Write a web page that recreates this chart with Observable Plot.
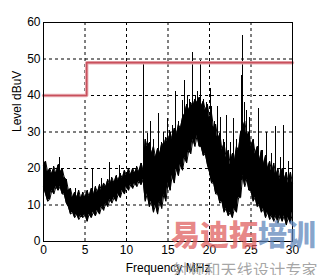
<!DOCTYPE html>
<html>
<head>
<meta charset="utf-8">
<script src="https://cdn.jsdelivr.net/npm/d3@7"></script>
<script src="https://cdn.jsdelivr.net/npm/@observablehq/plot@0.6"></script>
<style>
  body { margin: 0; background: #fff; }
  #wrap { position: relative; width: 325px; height: 275px; overflow: hidden; background: #fff; }
  .wm1 { position: absolute; left: 171px; top: 219px; font-family: "Noto Sans CJK SC"; font-weight: 900; font-size: 29px; white-space: nowrap; line-height: 1; }
  .wm2 { position: absolute; left: 172px; top: 261px; font-family: "Noto Sans CJK SC"; font-size: 16px; color: rgba(150,150,150,0.85); white-space: nowrap; line-height: 1; letter-spacing: 0.2px; }
</style>
</head>
<body>
<div id="wrap"></div>
<script>
// Frequency grid (MHz) of the noise envelope
const freq = [0,0.5,1,1.5,2,2.5,3,3.5,4,4.5,5,5.5,6,6.5,7,7.5,8,8.5,9,9.5,10,10.5,11,11.5,12,
  12.5,13,13.5,14,14.5,15,15.5,16,16.5,17,17.5,18,18.5,19,19.5,20,20.5,21,21.5,22,22.5,23,23.5,24,
  24.5,25,25.5,26,26.5,27,27.5,28,28.5,29,29.5,30];
// Upper envelope (dBuV)
const hi = [21,19,18.5,18.5,19,17.5,14,12,12,11.7,12,12.3,12.6,13.5,14,15,15.5,16,16.7,17.3,18,18.3,18.7,19,19.5,
  26,24,23,24,26,27,28,29,31,35,36,37,38,37,36,34,31,28,25,23,21,22,25,31,
  29,26,24,22,21,20,19,18,17,17,16,16];
// Lower envelope (dBuV)
const lo = [15,11,14,15,15,13,9.5,8,7.5,7,7.5,7.5,8,8.5,9.5,10.5,11.5,12,13,14,15,15.5,16,16.5,17,
  13,11,10,11,13,16,18,20,21,23,25,28,29,26,24,19,16,13,11,9,8,9,12,18,
  17,14,12,10,9,8,7,7,7,7,6.5,8];
// In-between noise extremes (MHz, dBuV)
const fringeF = [0.25,0.75,1.25,1.75,2.25,2.75,3.25,3.75,4.25,4.75,5.25,5.75,6.25,6.75,7.25,7.75,8.25,8.75,9.25,9.75,
  10.25,10.75,11.25,11.75,12.25,12.75,13.25,13.75,14.25,14.75,15.25,15.75,16.25,16.75,17.25,17.75,18.25,18.75,19.25,19.75,
  20.25,20.75,21.25,21.75,22.25,22.75,23.25,23.75,24.25,24.75,25.25,25.75,26.25,26.75,27.25,27.75,28.25,28.75,29.25,29.75];
const fringeUp = [22,20,20.5,21,20,17,14.5,13.5,14,13.5,14,14.5,15,15.5,16,17,17.5,18,18.5,19.5,
  20,20,20.5,21.5,28,27,26,25.5,27,28.5,30,31,32,34,37.5,38,39,39.5,38.5,37.5,
  35,32,29.5,27,25,24,26,30,33,30,28,26,25,23.5,22,21.5,20,20,19,19];
const fringeDn = [13,11.5,13,14,13,10.5,7.5,6.5,6,6.5,5.5,6.5,7,7.5,8.5,9.5,10.5,11,12,13,
  14,14.5,15,15.5,11,9.5,8,7.5,9,11,14,16,18,19.5,21.5,24,26,26,23.5,21,
  16,13,10.5,8,7,6.5,8,12,15,14,11,9.5,8,6.5,6,5.5,5,5.5,4.5,5];
// Narrow spikes: frequency (MHz) and peak level (dBuV)
const spikeF = [1.9,3.9,5.9,7.0,8.0,9.2,10.7,12.0,12.5,12.9,13.3,13.9,14.5,14.9,15.2,15.6,15.9,16.3,16.7,17.0,
  17.3,17.6,18.0,18.3,18.6,18.9,19.3,19.6,20.1,20.3,20.6,21.0,21.3,21.7,22.1,22.5,22.9,23.3,23.8,24.0,
  24.2,24.4,24.8,25.3,25.9,26.4,26.9,27.5,28.0,28.5,28.9,29.5,30.0];
const spikeTop = [23,14.5,20,17.3,21.6,20.8,19.5,49,29.6,33,28,35,30,33.7,30.4,31.8,41,33,38.6,44,
  40,39,51.8,40,41,49.5,39,38,42,37,33,37,34,28,34.5,27,33.6,28,45.5,56.4,
  38,36,34,27,36.4,25,30,24,31.6,23,31.8,22,31];
// Emission limit line
const limitF = [0,5.2,5.2,30];
const limitV = [40,40,49,49];
// Axis ticks
const xTicks = [0,5,10,15,20,25,30];
const yTicks = [0,10,20,30,40,50,60];

// merge envelope and in-between extremes into one jagged band
const band = [];
freq.forEach((f,i) => {
  band.push({f, hi: hi[i], lo: lo[i]});
  if (i < fringeF.length) band.push({f: fringeF[i], hi: fringeUp[i], lo: fringeDn[i]});
});
const loAt = d3.scaleLinear().domain(freq).range(lo);
const spikes = spikeF.map((f,i) => ({f, top: spikeTop[i], base: loAt(f) + 1}));
const limit = limitF.map((f,i) => ({f, v: limitV[i]}));

const font = "'Liberation Sans', Arial, sans-serif";
const chart = Plot.plot({
  width: 325, height: 275,
  marginLeft: 43, marginRight: 33, marginTop: 22, marginBottom: 34,
  style: {fontFamily: font, fontSize: "12px", background: "#fff", color: "#000"},
  x: {domain: [0,30]},
  y: {domain: [0,60]},
  marks: [
    Plot.gridX(xTicks, {stroke: "#000", strokeOpacity: 1, strokeDasharray: "3,3"}),
    Plot.gridY(yTicks, {stroke: "#000", strokeOpacity: 1, strokeDasharray: "3,3"}),
    Plot.areaY(band, {x: "f", y1: "lo", y2: "hi", fill: "#000"}),
    Plot.line(band, {x: "f", y: "hi", stroke: "#000", strokeWidth: 1}),
    Plot.line(band, {x: "f", y: "lo", stroke: "#000", strokeWidth: 1}),
    Plot.ruleX(band, {x: "f", y1: "lo", y2: "hi", stroke: "#000", strokeWidth: 1, shapeRendering: "crispEdges"}),
    Plot.ruleX(spikes, {x: "f", y1: "base", y2: "top", stroke: "#000", strokeWidth: 1, shapeRendering: "crispEdges"}),
    Plot.line(limit, {x: "f", y: "v", stroke: "#eab0b6", strokeWidth: 3.5}),
    Plot.line(limit, {x: "f", y: "v", stroke: "#c8505c", strokeWidth: 1.6}),
    Plot.frame({stroke: "#000"}),
    Plot.axisX(xTicks, {tickSize: 0, tickPadding: 4, label: null, fontSize: 12}),
    Plot.axisY(yTicks, {tickSize: 0, tickPadding: 3, label: null, fontSize: 12}),
    Plot.text(["Frequency MHz"], {frameAnchor: "bottom", dy: 30, fontSize: 12}),
    Plot.text(["Level dBuV"], {frameAnchor: "left", dx: -26, rotate: -90, fontSize: 12})
  ]
});
const wrap = document.getElementById("wrap");
wrap.appendChild(chart);
const w1 = document.createElement("div");
w1.className = "wm1";
w1.innerHTML = '<span style="color:rgba(222,90,90,0.72)">易迪拓</span><span style="color:rgba(90,130,185,0.72)">培训</span>';
wrap.appendChild(w1);
const w2 = document.createElement("div");
w2.className = "wm2";
w2.textContent = "射频和天线设计专家";
wrap.appendChild(w2);
</script>
</body>
</html>
